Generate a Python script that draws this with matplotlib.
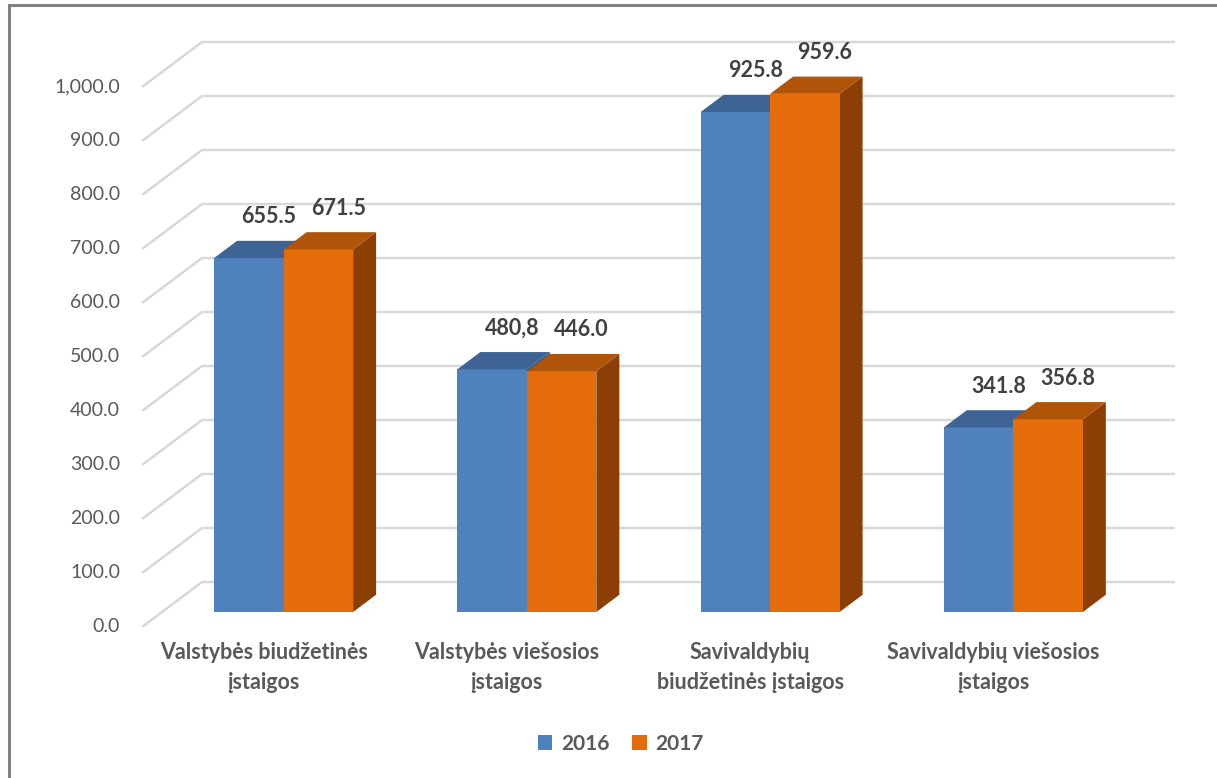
import matplotlib.pyplot as plt
from matplotlib.patches import Polygon, Patch
import numpy as np

###################### data ###########################
categories = ["Valstybės biudžetinės\nįstaigos", "Valstybės viešosios\nįstaigos",
              "Savivaldybių\nbiudžetinės įstaigos", "Savivaldybių viešosios\nįstaigos"]
years = ["2016", "2017"]
values_2016 = [655.5, 449.5, 925.8, 341.8]
values_2017 = [671.5, 446.0, 959.6, 356.8]
labels_2016 = ["655.5", "480,8", "925.8", "341.8"]
labels_2017 = ["671.5", "446.0", "959.6", "356.8"]
y_ticks = np.arange(0, 1001, 100)

###################### style ###########################
plt.rcParams['font.family'] = ['Lato', 'DejaVu Sans']
front_cols = ["#4f81bd", "#e46c0a"]
top_cols = ["#3d6494", "#b0540a"]
side_cols = ["#2e5b8c", "#8c3f04"]
grid_col = "#d9d9d9"
txt_col = "#595959"
lab_col = "#404040"

# pixel geometry of the picture (1217 x 778)
W, H = 1217, 778
px_x = 243.25      # px per category
px_y = 0.54        # px per value unit
x0_px, y0_px = 142, 627
DX = 60 / px_x     # full floor depth in x units
DY = 45 / px_y     # full floor depth in value units
d0, d1 = 0.333, 0.716
bw = 69.5 / px_x

fig = plt.figure(figsize=(W / 100, H / 100), dpi=100)
ax = fig.add_axes([0, 0, 1, 1])
ax.set_xlim(-0.5 - x0_px / px_x, -0.5 + (W - x0_px) / px_x)
ax.set_ylim(-(H - y0_px) / px_y, y0_px / px_y)
ax.axis('off')

# figure border (left and top)
fig.add_artist(plt.Line2D([9 / W, 9 / W], [0, 1 - 5 / H], color="#808080", lw=2.2))
fig.add_artist(plt.Line2D([9 / W, 1], [1 - 5 / H, 1 - 5 / H], color="#808080", lw=2.2))

# gridlines: diagonal on side wall + horizontal on back wall
xback = 3.5 + DX
for v in y_ticks:
    ax.plot([-0.5, -0.5 + DX, xback], [v, v + DY, v + DY], color=grid_col, lw=1.8, zorder=0,
            solid_capstyle='butt')
    ax.text(-0.59, v, f"{v:,.1f}", ha='right', va='center', fontsize=14, color=txt_col)


def box(xl, h, k, zs):
    xr = xl + bw
    ox0, oy0 = d0 * DX, d0 * DY
    ox, oy = (d1 - d0) * DX, (d1 - d0) * DY
    front = [(xl + ox0, oy0), (xr + ox0, oy0), (xr + ox0, h + oy0), (xl + ox0, h + oy0)]
    top = [(xl + ox0, h + oy0), (xr + ox0, h + oy0), (xr + ox0 + ox, h + oy0 + oy), (xl + ox0 + ox, h + oy0 + oy)]
    side = [(xr + ox0, oy0), (xr + ox0 + ox, oy0 + oy), (xr + ox0 + ox, h + oy0 + oy), (xr + ox0, h + oy0)]
    ax.add_patch(Polygon(side, closed=True, fc=side_cols[k], ec='none', zorder=zs[0]))
    ax.add_patch(Polygon(front, closed=True, fc=front_cols[k], ec='none', zorder=zs[1]))
    ax.add_patch(Polygon(top, closed=True, fc=top_cols[k], ec='none', zorder=zs[2]))


for i in range(len(categories)):
    b, o = values_2016[i], values_2017[i]
    blue_top_z = 6 if b > o else 2
    box(i - bw, b, 0, (1, 2, blue_top_z))
    box(i, o, 1, (3, 4, 4))
    for k, (h, lab) in enumerate([(b, labels_2016[i]), (o, labels_2017[i])]):
        xc = i - bw / 2 + k * bw + 40 / px_x
        ax.text(xc, h + 104, lab, ha='center', va='center', fontsize=15.5,
                fontweight='bold', color=lab_col, zorder=7)
    ax.text(i, -28, categories[i], ha='center', va='top', fontsize=15.5,
            fontweight='bold', color=txt_col, linespacing=1.55)

handles = [Patch(fc=front_cols[k], ec='none') for k in range(2)]
fig.legend(handles, years, loc='center', bbox_to_anchor=(0.51, 1 - 744 / H), ncol=2,
           frameon=False, prop={'weight': 'bold', 'size': 15}, labelcolor=txt_col,
           handlelength=0.7, handleheight=0.7, handletextpad=0.4, columnspacing=1.1)

fig.savefig("out.png", dpi=100)
